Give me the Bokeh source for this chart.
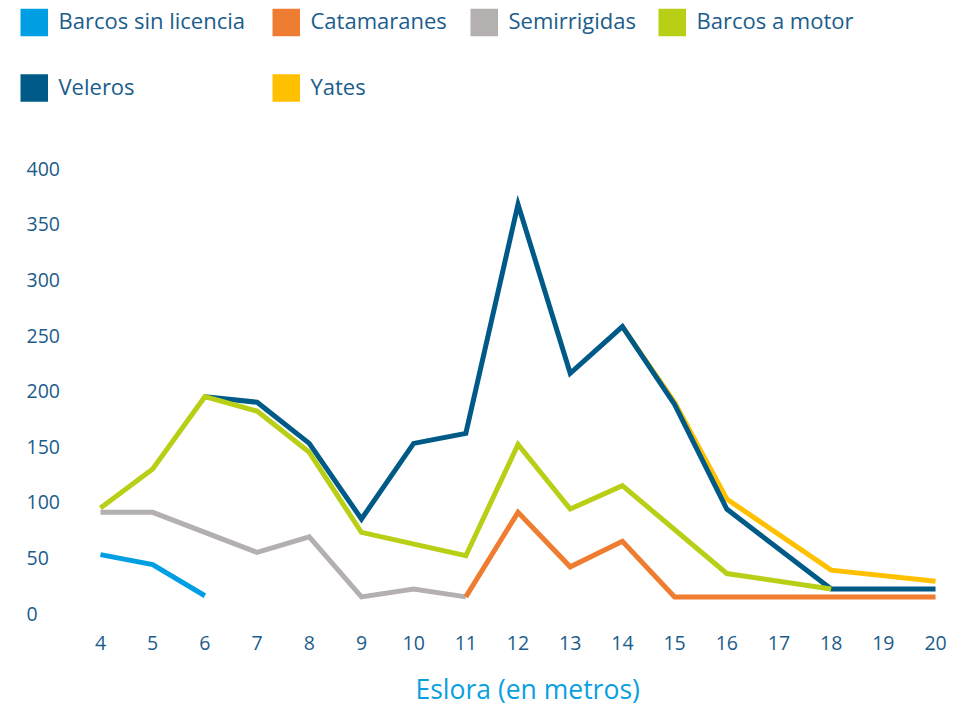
from bokeh.plotting import figure
from bokeh.models import Range1d, FixedTicker, Title
from bokeh.embed import file_html
from bokeh.resources import INLINE
from bokeh.core.properties import value

# ---- data ----
series_names = ["Barcos sin licencia", "Catamaranes", "Semirrigidas", "Barcos a motor", "Veleros", "Yates"]
series_colors = ["#009FE3", "#EE7D31", "#B3B0AF", "#B8CF15", "#005A87", "#FFC000"]

sin_licencia_x = [4, 5, 6]
sin_licencia_y = [53, 44, 16]

catamaranes_x = [11, 12, 13, 14, 15, 20]
catamaranes_y = [15, 91, 42, 65, 15, 15]

semirrigidas_x = [4, 5, 7, 8, 9, 10, 11]
semirrigidas_y = [91, 91, 55, 69, 15, 22, 15]

motor_x = [4, 5, 6, 7, 8, 9, 11, 12, 13, 14, 16, 18]
motor_y = [95, 130, 195, 182, 145, 73, 52, 152, 94, 115, 36, 22]

veleros_x = [6, 7, 8, 9, 10, 11, 12, 13, 14, 15, 16, 18, 20]
veleros_y = [195, 190, 153, 85, 153, 162, 368, 216, 258, 188, 94, 22, 22]

yates_x = [14, 15, 16, 18, 20]
yates_y = [258, 190, 103, 39, 29]

x_ticks = list(range(4, 21))
y_ticks = [0, 50, 100, 150, 200, 250, 300, 350, 400]
x_title = "Eslora (en metros)"

TEXT = "#1b5d8c"
FONT = "Open Sans"

series_data = [
    (sin_licencia_x, sin_licencia_y),
    (catamaranes_x, catamaranes_y),
    (semirrigidas_x, semirrigidas_y),
    (motor_x, motor_y),
    (veleros_x, veleros_y),
    (yates_x, yates_y),
]

# ---- layout (pixels on the page) ----
W, H = 968, 723
FRAME_BOTTOM = 629
SX = 52.19          # px per metre
SY = 1.1175         # px per unit
X0 = 4 - 100 / SX   # data x at pixel 0
YT = 400 + 169 / SY # data y at pixel 0 (top)

def px2x(px):
    return X0 + px / SX

def py2y(py):
    return YT - py / SY

p = figure(width=W, height=H,
           x_range=Range1d(px2x(0), px2x(W)), y_range=Range1d(py2y(FRAME_BOTTOM), py2y(0)),
           y_axis_location="right",
           output_backend="svg", toolbar_location=None,
           min_border_left=0, min_border_right=0, min_border_top=0,
           min_border_bottom=H - FRAME_BOTTOM)
p.grid.visible = False
p.outline_line_color = None
p.background_fill_color = None
p.border_fill_color = None

order = [5, 4, 2, 1, 3, 0]
for i in order:
    xs, ys = series_data[i]
    p.line(xs, ys, line_color=series_colors[i], line_width=5, line_join="miter")

# ---- legend (two rows, four column slots) ----
col_px = [20, 272, 470, 658]
row_px = [22, 88]
SQ = 27.5
sq_x, sq_y, sq_c, tx, ty = [], [], [], [], []
for i, c in enumerate(series_colors):
    r, k = divmod(i, 4)
    sq_x.append(px2x(col_px[k] + SQ / 2))
    sq_y.append(py2y(row_px[r]))
    sq_c.append(c)
    tx.append(px2x(col_px[k] + 38))
    ty.append(py2y(row_px[r] - 2))
p.rect(x=sq_x, y=sq_y, width=SQ, height=SQ, width_units="screen", height_units="screen",
       fill_color=sq_c, line_color=None)
p.text(x=tx, y=ty, text=series_names, text_font=value(FONT), text_font_size="22px",
       text_baseline="middle", text_align="left", text_color=TEXT)

# ---- axes ----
for ax in (p.xaxis[0], p.yaxis[0]):
    ax.axis_line_color = None
    ax.major_tick_line_color = None
    ax.minor_tick_line_color = None
    ax.major_tick_out = 0
    ax.major_tick_in = 0
    ax.major_label_text_font = FONT
    ax.major_label_text_font_size = "19.5px"
    ax.major_label_text_color = TEXT

p.xaxis.ticker = FixedTicker(ticks=x_ticks)
p.yaxis.ticker = FixedTicker(ticks=y_ticks)
p.xaxis.major_label_standoff = 9
p.yaxis.major_label_standoff = -36
p.yaxis.fixed_location = px2x(62)

p.add_layout(Title(text=x_title, align="left", offset=415, text_font=FONT,
                   text_font_size="26.5px", text_font_style="normal",
                   text_color="#0aa0e0", standoff=33), "below")

open("out.html", "w").write(file_html(p, INLINE))
